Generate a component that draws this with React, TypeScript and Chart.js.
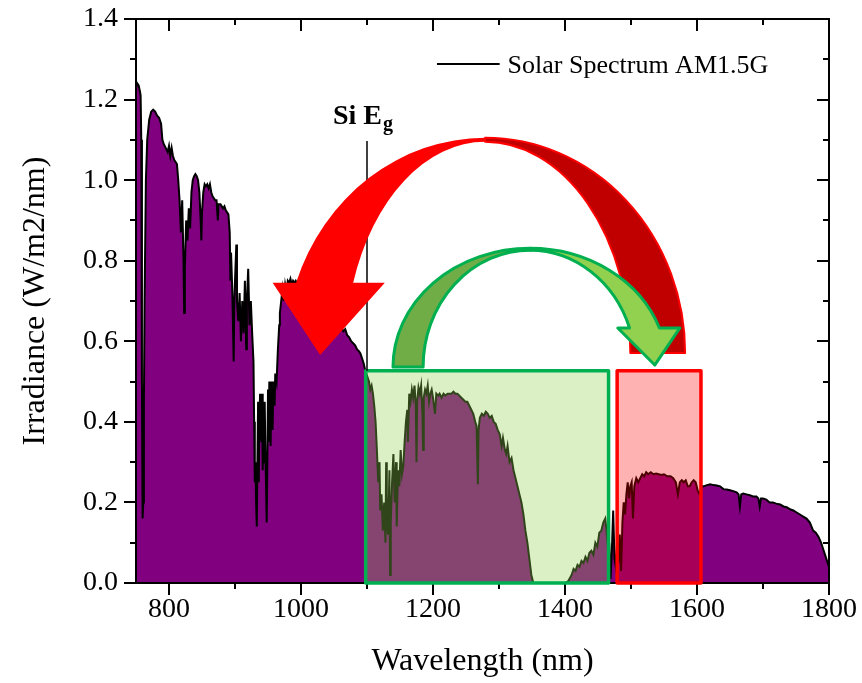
import React, { useEffect, useRef } from 'react';
import { Chart, registerables } from 'chart.js';

Chart.register(...registerables);

// ---- data ----
const wavelengthNm = [
  750, 752, 754, 756, 757, 758, 759, 760, 761, 762,
  763, 765, 767, 770, 773, 776, 779, 782, 785, 788,
  790, 792, 795, 798, 800, 802, 804, 806, 808, 810,
  812, 814, 816, 818, 820, 822, 823, 824, 826, 828,
  830, 832, 834, 836, 838, 840, 842, 844, 846, 848,
  849, 850, 852, 854, 856, 858, 860, 862, 864, 866,
  868, 870, 872, 874, 875, 878, 880, 882, 884, 886,
  888, 890, 892, 893, 894, 896, 898, 899, 900, 902,
  903, 905, 907, 909, 911, 913, 915, 917, 918, 920,
  922, 924, 926, 928, 929, 930, 931, 932, 933, 934,
  935, 936, 937, 938, 940, 941, 942, 943, 944, 945,
  946, 947, 948, 949, 950, 951, 952, 953, 954, 955,
  956, 957, 958, 960, 961, 963, 965, 967, 968, 970,
  972, 974, 976, 978, 980, 982, 984, 986, 988, 990,
  992, 995, 998, 1000, 1005, 1010, 1015, 1020, 1025, 1030,
  1035, 1040, 1045, 1050, 1055, 1060, 1064, 1067, 1070, 1073,
  1076, 1079, 1082, 1085, 1088, 1090, 1093, 1095, 1097, 1099,
  1101, 1103, 1105, 1107, 1109, 1111, 1113, 1115, 1117, 1119,
  1120, 1122, 1124, 1126, 1128, 1129, 1130, 1132, 1134, 1135,
  1136, 1138, 1140, 1142, 1144, 1145, 1147, 1149, 1151, 1153,
  1155, 1157, 1159, 1161, 1162, 1164, 1166, 1168, 1170, 1172,
  1174, 1175, 1176, 1178, 1180, 1182, 1184, 1185, 1186, 1188,
  1190, 1192, 1194, 1196, 1198, 1200, 1203, 1205, 1208, 1210,
  1213, 1216, 1219, 1222, 1225, 1228, 1231, 1234, 1237, 1240,
  1243, 1246, 1249, 1252, 1255, 1258, 1261, 1264, 1266, 1268,
  1269, 1271, 1274, 1277, 1280, 1283, 1286, 1289, 1292, 1295,
  1298, 1301, 1304, 1306, 1309, 1311, 1313, 1316, 1319, 1322,
  1325, 1328, 1331, 1334, 1337, 1340, 1343, 1346, 1349, 1352,
  1360, 1370, 1380, 1390, 1400, 1405, 1410, 1413, 1416, 1419,
  1422, 1425, 1428, 1431, 1434, 1437, 1440, 1443, 1446, 1449,
  1452, 1455, 1458, 1461, 1463, 1465, 1466, 1467, 1469, 1471,
  1473, 1475, 1477, 1479, 1481, 1483, 1485, 1487, 1489, 1491,
  1493, 1495, 1497, 1499, 1501, 1503, 1505, 1508, 1511, 1514,
  1517, 1520, 1523, 1526, 1530, 1534, 1538, 1542, 1546, 1550,
  1555, 1560, 1564, 1568, 1571, 1574, 1577, 1580, 1583, 1586,
  1589, 1592, 1595, 1598, 1601, 1604, 1607, 1610, 1615, 1620,
  1625, 1630, 1635, 1640, 1645, 1650, 1655, 1660, 1663, 1665,
  1667, 1670, 1675, 1680, 1685, 1690, 1693, 1695, 1697, 1700,
  1705, 1710, 1715, 1720, 1726, 1731, 1736, 1741, 1746, 1751,
  1756, 1761, 1766, 1771, 1776, 1780, 1784, 1788, 1792, 1796,
  1800,
];

const irradiance = [
  1.23, 1.24, 1.235, 1.22, 1.21, 1.10, 0.50, 0.16, 0.20, 0.45,
  0.70, 1.00, 1.10, 1.15, 1.17, 1.175, 1.17, 1.16, 1.155, 1.14,
  1.10, 1.09, 1.08, 1.07, 1.085, 1.06, 1.08, 1.06, 1.05, 1.045,
  1.04, 1.00, 0.95, 0.87, 0.95, 0.80, 0.67, 0.78, 0.90, 0.85,
  0.93, 0.88, 0.97, 1.00, 1.01, 1.015, 1.01, 1.00, 0.97, 0.90,
  0.85, 0.92, 0.97, 0.99, 0.985, 0.99, 0.98, 0.99, 0.97, 0.96,
  0.955, 0.95, 0.95, 0.90, 0.94, 0.94, 0.935, 0.93, 0.935, 0.925,
  0.92, 0.915, 0.87, 0.75, 0.82, 0.72, 0.55, 0.70, 0.75, 0.84,
  0.70, 0.65, 0.72, 0.60, 0.70, 0.62, 0.75, 0.58, 0.70, 0.78,
  0.64, 0.70, 0.62, 0.55, 0.40, 0.25, 0.30, 0.20, 0.14, 0.30,
  0.45, 0.25, 0.40, 0.47, 0.35, 0.47, 0.28, 0.40, 0.30, 0.45,
  0.33, 0.25, 0.15, 0.30, 0.48, 0.35, 0.50, 0.42, 0.34, 0.50,
  0.45, 0.38, 0.50, 0.44, 0.52, 0.50, 0.58, 0.64, 0.67, 0.70,
  0.73, 0.70, 0.74, 0.72, 0.75, 0.745, 0.755, 0.74, 0.75, 0.745,
  0.75, 0.74, 0.735, 0.73, 0.72, 0.715, 0.70, 0.695, 0.68, 0.68,
  0.67, 0.66, 0.655, 0.645, 0.64, 0.635, 0.625, 0.63, 0.615, 0.61,
  0.60, 0.595, 0.59, 0.58, 0.575, 0.57, 0.555, 0.545, 0.53, 0.52,
  0.51, 0.50, 0.48, 0.49, 0.47, 0.44, 0.40, 0.33, 0.25, 0.30,
  0.18, 0.22, 0.13, 0.20, 0.10, 0.30, 0.15, 0.12, 0.28, 0.02,
  0.15, 0.25, 0.32, 0.20, 0.30, 0.14, 0.28, 0.24, 0.33, 0.27,
  0.29, 0.35, 0.40, 0.43, 0.35, 0.47, 0.45, 0.48, 0.46, 0.49,
  0.44, 0.30, 0.45, 0.485, 0.47, 0.49, 0.42, 0.33, 0.46, 0.48,
  0.47, 0.49, 0.45, 0.47, 0.48, 0.46, 0.42, 0.47, 0.465, 0.47,
  0.46, 0.47, 0.465, 0.47, 0.47, 0.47, 0.475, 0.47, 0.47, 0.465,
  0.46, 0.455, 0.45, 0.45, 0.44, 0.43, 0.42, 0.40, 0.39, 0.245,
  0.38, 0.41, 0.42, 0.415, 0.425, 0.42, 0.41, 0.415, 0.40, 0.395,
  0.38, 0.37, 0.34, 0.36, 0.33, 0.32, 0.34, 0.30, 0.31, 0.28,
  0.26, 0.24, 0.22, 0.20, 0.17, 0.13, 0.10, 0.06, 0.02, 0.00,
  0.00, 0.00, 0.00, 0.00, 0.00, 0.005, 0.02, 0.035, 0.03, 0.045,
  0.04, 0.055, 0.05, 0.065, 0.055, 0.075, 0.08, 0.07, 0.10, 0.09,
  0.125, 0.13, 0.15, 0.16, 0.13, 0.09, 0.05, 0.10, 0.01, 0.08,
  0.18, 0.06, 0.04, 0.10, 0.05, 0.12, 0.03, 0.15, 0.20, 0.17,
  0.22, 0.25, 0.21, 0.24, 0.25, 0.16, 0.24, 0.26, 0.25, 0.26,
  0.27, 0.265, 0.275, 0.27, 0.275, 0.27, 0.272, 0.27, 0.268, 0.27,
  0.265, 0.265, 0.26, 0.25, 0.22, 0.25, 0.255, 0.25, 0.255, 0.24,
  0.24, 0.25, 0.255, 0.25, 0.23, 0.22, 0.24, 0.24, 0.243, 0.245,
  0.243, 0.242, 0.24, 0.233, 0.232, 0.23, 0.228, 0.225, 0.22, 0.19,
  0.22, 0.222, 0.22, 0.218, 0.215, 0.215, 0.21, 0.19, 0.21, 0.21,
  0.207, 0.20, 0.20, 0.197, 0.195, 0.19, 0.188, 0.183, 0.18, 0.175,
  0.17, 0.165, 0.16, 0.15, 0.13, 0.125, 0.115, 0.10, 0.08, 0.06,
  0.04,
];

const xMajorTicks = [800, 1000, 1200, 1400, 1600, 1800];
const xMinorTicks = [900, 1100, 1300, 1500, 1700];
const yMajorTicks = [0, 0.2, 0.4, 0.6, 0.8, 1.0, 1.2, 1.4];
const yMinorTicks = [0.1, 0.3, 0.5, 0.7, 0.9, 1.1, 1.3];

const seriesLabel = 'Solar Spectrum AM1.5G';
const siGapNm = 1100;
const greenBandNm = [1098, 1466];
const redBandNm = [1479, 1606];
const bandTopValue = 0.527;

const SERIF = "'Liberation Serif', 'Times New Roman', serif";

const decorPlugin = {
  id: 'decor',
  afterDatasetsDraw(chart: any) {
    const { ctx, chartArea: a, scales } = chart;
    const xs = scales.x;
    const ys = scales.y;
    const X = (v: number) => xs.getPixelForValue(v);
    const Y = (v: number) => ys.getPixelForValue(v);
    const RX = (cx: number, r: number) => X(cx + r) - X(cx);
    const RY = (cy: number, r: number) => Y(cy) - Y(cy + r);

    ctx.save();
    // frame
    ctx.strokeStyle = '#000';
    ctx.lineWidth = 2;
    ctx.strokeRect(a.left, a.top, a.right - a.left, a.bottom - a.top);
    // ticks
    ctx.lineWidth = 2;
    ctx.beginPath();
    const tick = (vals: number[], len: number) => {
      vals.forEach((v) => {
        const px = Math.round(X(v));
        ctx.moveTo(px, a.bottom);
        ctx.lineTo(px, a.bottom + len);
        ctx.moveTo(px, a.top);
        ctx.lineTo(px, a.top + len);
      });
    };
    tick(xMajorTicks, 12);
    tick(xMinorTicks, 6);
    const ytick = (vals: number[], len: number) => {
      vals.forEach((v) => {
        const py = Math.round(Y(v));
        ctx.moveTo(a.left - len, py);
        ctx.lineTo(a.left, py);
        ctx.moveTo(a.right - len, py);
        ctx.lineTo(a.right, py);
      });
    };
    ytick(yMajorTicks, 12);
    ytick(yMinorTicks, 6);
    ctx.stroke();

    // highlighted bands
    ctx.lineJoin = 'round';
    const band = (range: number[], fill: string, stroke: string) => {
      const x0 = X(range[0]);
      const x1 = X(range[1]);
      const y0 = Y(bandTopValue);
      const y1 = Y(0);
      ctx.fillStyle = fill;
      ctx.fillRect(x0, y0, x1 - x0, y1 - y0);
      ctx.lineWidth = 3.5;
      ctx.strokeStyle = stroke;
      ctx.strokeRect(x0, y0, x1 - x0, y1 - y0);
    };
    band(greenBandNm, 'rgba(146,208,80,0.33)', '#00B050');
    band(redBandNm, 'rgba(255,0,0,0.30)', '#FF0000');

    // Si band-gap marker line
    ctx.strokeStyle = '#000';
    ctx.lineWidth = 1.5;
    ctx.beginPath();
    ctx.moveTo(X(siGapNm), Y(1.097));
    ctx.lineTo(X(siGapNm), Y(bandTopValue));
    ctx.stroke();

    // curved arrows
    const curvedArrow = (o: any) => {
      const cx = X(o.cx);
      const cy = Y(o.cy);
      const rxo = RX(o.cx, o.rxo);
      const ryo = RY(o.cy, o.ryo);
      const rxiB = RX(o.cx, o.rxiBack);
      const rxiF = RX(o.cx, o.rxiFront);
      const ryi = RY(o.cy, o.ryi);
      const dir = o.dir;
      const hb = Y(o.headY);
      ctx.beginPath();
      if (dir < 0) {
        ctx.ellipse(cx, cy, rxo, ryo, 0, -Math.PI / 2, 0, false);
        ctx.lineTo(cx + rxiB, cy);
        ctx.ellipse(cx, cy, rxiB, ryi, 0, 0, -Math.PI / 2, true);
      } else {
        ctx.ellipse(cx, cy, rxo, ryo, 0, -Math.PI / 2, -Math.PI, true);
        ctx.lineTo(cx - rxiB, cy);
        ctx.ellipse(cx, cy, rxiB, ryi, 0, -Math.PI, -Math.PI / 2, false);
      }
      ctx.closePath();
      ctx.fillStyle = o.backColor;
      ctx.fill();
      ctx.lineWidth = o.strokeWidth;
      ctx.strokeStyle = o.stroke;
      ctx.stroke();
      const so = Math.asin(Math.min(1, (cy - hb) / ryo));
      const si = Math.asin(Math.min(1, (cy - hb) / ryi));
      ctx.beginPath();
      if (dir < 0) {
        ctx.ellipse(cx, cy, rxo, ryo, 0, -Math.PI / 2, so - Math.PI, true);
        ctx.lineTo(X(o.headX0), hb);
        ctx.lineTo(X(o.tipX), Y(o.tipY));
        ctx.lineTo(X(o.headX1), hb);
        ctx.ellipse(cx, cy, rxiF, ryi, 0, si - Math.PI, -Math.PI / 2, false);
      } else {
        ctx.ellipse(cx, cy, rxo, ryo, 0, -Math.PI / 2, -so, false);
        ctx.lineTo(X(o.headX1), hb);
        ctx.lineTo(X(o.tipX), Y(o.tipY));
        ctx.lineTo(X(o.headX0), hb);
        ctx.ellipse(cx, cy, rxiF, ryi, 0, -si, -Math.PI / 2, true);
      }
      ctx.closePath();
      ctx.fillStyle = o.frontColor;
      ctx.fill();
      if (o.frontStroke) {
        ctx.lineWidth = o.strokeWidth;
        ctx.strokeStyle = o.stroke;
        ctx.stroke();
      }
    };

    curvedArrow({
      cx: 1279, cy: 0.571, rxo: 303, ryo: 0.534,
      rxiBack: 220, rxiFront: 212, ryi: 0.524,
      dir: -1, headY: 0.745, headX0: 957, headX1: 1127, tipX: 1029, tipY: 0.566,
      backColor: '#C00000', frontColor: '#FF0000', stroke: '#FF0000', strokeWidth: 2, frontStroke: false,
    });
    curvedArrow({
      cx: 1347, cy: 0.536, rxo: 207.6, ryo: 0.295,
      rxiBack: 162, rxiFront: 160, ryi: 0.290,
      dir: 1, headY: 0.633, headX0: 1480, headX1: 1574, tipX: 1536, tipY: 0.541,
      backColor: '#70AD47', frontColor: '#92D050', stroke: '#00B050', strokeWidth: 3, frontStroke: true,
    });

    // Si Eg label
    ctx.fillStyle = '#000';
    ctx.textBaseline = 'alphabetic';
    ctx.textAlign = 'left';
    ctx.font = `bold 28px ${SERIF}`;
    const lx = X(1048.5);
    const ly = Y(1.139);
    ctx.fillText('Si E', lx, ly);
    const w = ctx.measureText('Si E').width;
    ctx.font = `bold 20px ${SERIF}`;
    ctx.fillText('g', lx + w + 1, ly + 6);

    // legend
    ctx.strokeStyle = '#000';
    ctx.lineWidth = 2;
    ctx.beginPath();
    ctx.moveTo(X(1206), Y(1.288));
    ctx.lineTo(X(1301), Y(1.288));
    ctx.stroke();
    ctx.font = `26px ${SERIF}`;
    ctx.fillText(seriesLabel, X(1313), Y(1.266));

    ctx.restore();
  },
};

export default function App() {
  const ref = useRef<HTMLCanvasElement | null>(null);
  useEffect(() => {
    if (!ref.current) return;
    const chart = new Chart(ref.current, {
      type: 'line',
      data: {
        datasets: [
          {
            label: seriesLabel,
            data: wavelengthNm.map((x, i) => ({ x, y: irradiance[i] })),
            borderColor: '#000',
            borderWidth: 2,
            backgroundColor: '#800080',
            fill: 'origin',
            pointRadius: 0,
            tension: 0,
          },
        ],
      },
      options: {
        responsive: false,
        animation: false,
        events: [],
        devicePixelRatio: 1,
        layout: { padding: { left: 0, top: 19, right: 33, bottom: 0 } },
        plugins: { legend: { display: false }, tooltip: { enabled: false } },
        scales: {
          x: {
            type: 'linear',
            min: 750,
            max: 1800,
            afterBuildTicks: (s: any) => {
              s.ticks = xMajorTicks.map((v) => ({ value: v }));
            },
            afterFit: (s: any) => {
              s.height = 100;
              s.paddingLeft = 0;
              s.paddingRight = 0;
            },
            grid: { display: false, drawTicks: false },
            border: { display: false },
            ticks: {
              autoSkip: false,
              maxRotation: 0,
              padding: 10,
              color: '#000',
              font: { family: SERIF, size: 28 },
              callback: (v: any) => String(v),
            },
            title: {
              display: true,
              text: 'Wavelength (nm)',
              color: '#000',
              font: { family: SERIF, size: 32 },
              padding: { top: 0, bottom: 2 },
            },
          },
          y: {
            type: 'linear',
            min: 0,
            max: 1.4,
            afterBuildTicks: (s: any) => {
              s.ticks = yMajorTicks.map((v) => ({ value: v }));
            },
            afterFit: (s: any) => {
              s.width = 136;
              s.paddingTop = 0;
              s.paddingBottom = 0;
            },
            grid: { display: false, drawTicks: false },
            border: { display: false },
            ticks: {
              padding: 18,
              color: '#000',
              font: { family: SERIF, size: 28 },
              callback: (v: any) => Number(v).toFixed(1),
            },
            title: {
              display: true,
              text: 'Irradiance (W/m2/nm)',
              color: '#000',
              font: { family: SERIF, size: 32 },
              padding: { top: 16, bottom: 0 },
            },
          },
        },
      },
      plugins: [decorPlugin],
    });
    return () => chart.destroy();
  }, []);
  return (
    <div style={{ position: 'absolute', left: 0, top: 0, width: 862, height: 683, background: '#fff' }}>
      <canvas ref={ref} width={862} height={683} style={{ display: 'block' }} />
    </div>
  );
}
